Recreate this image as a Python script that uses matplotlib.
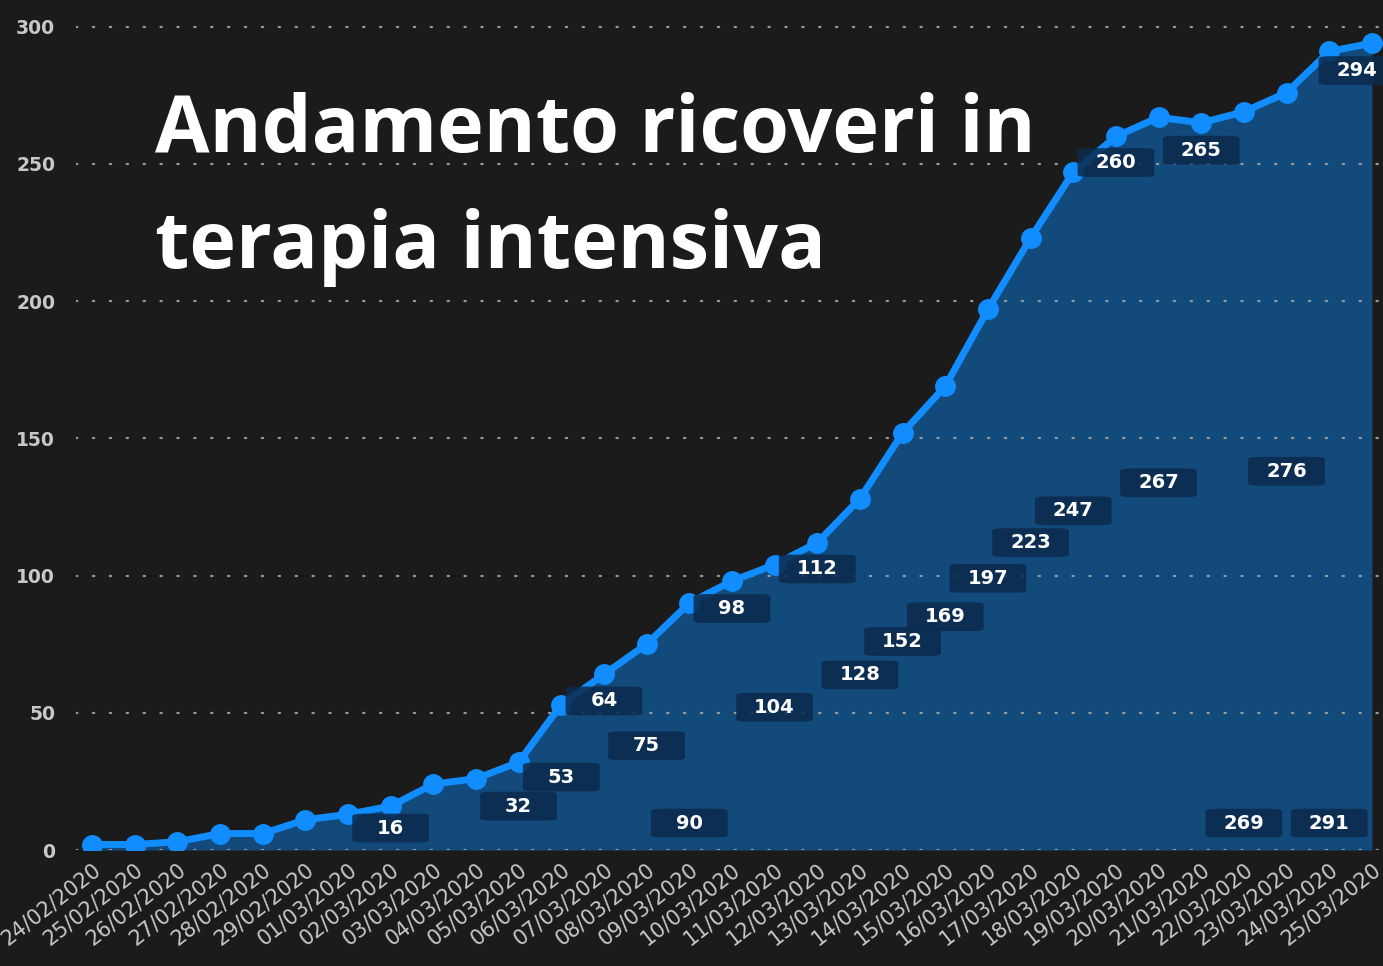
import matplotlib
matplotlib.use("Agg")
import matplotlib.pyplot as plt
from matplotlib.patches import FancyBboxPatch

dates = ["24/02/2020", "25/02/2020", "26/02/2020", "27/02/2020", "28/02/2020", "29/02/2020",
         "01/03/2020", "02/03/2020", "03/03/2020", "04/03/2020", "05/03/2020", "06/03/2020",
         "07/03/2020", "08/03/2020", "09/03/2020", "10/03/2020", "11/03/2020", "12/03/2020",
         "13/03/2020", "14/03/2020", "15/03/2020", "16/03/2020", "17/03/2020", "18/03/2020",
         "19/03/2020", "20/03/2020", "21/03/2020", "22/03/2020", "23/03/2020", "24/03/2020",
         "25/03/2020"]
values = [2, 2, 3, 6, 6, 11, 13, 16, 24, 26, 32, 53, 64, 75, 90, 98, 104, 112, 128, 152,
          169, 197, 223, 247, 260, 267, 265, 269, 276, 291, 294]
# indices of labelled points and the vertical (data-unit) position of their label boxes
label_idx = [7, 10, 11, 12, 13, 14, 15, 16, 17, 18, 19, 20, 21, 22, 23, 24, 25, 26, 27, 28, 29, 30]
label_y = [8, 16, 26.6, 54.3, 38, 9.8, 88, 52, 102.4, 63.8, 76, 85, 99, 112, 123.6,
           250.5, 133.8, 255, 9.8, 138, 9.8, 284]
yticks = [0, 50, 100, 150, 200, 250, 300]
title_lines = ["Andamento ricoveri in", "terapia intensiva"]

BG = "#1b1b1b"
LINE = "#118dff"
FILL = "#134a7c"
BOX = "#0c2a4c"

W, H = 1383, 966
fig = plt.figure(figsize=(W / 100, H / 100), dpi=100, facecolor=BG)
ax_left, ax_right = 76 / W, 1.0
ax_bottom = (H - 850) / H
ax_top = 1 - 13 / H
ax = fig.add_axes([ax_left, ax_bottom, ax_right - ax_left, ax_top - ax_bottom])
ax.set_facecolor(BG)

x = list(range(len(values)))
ax.fill_between(x, values, 0, color=FILL, zorder=1, linewidth=0)
ax.plot(x, values, color=LINE, lw=5, marker="o", ms=14, zorder=4, solid_joinstyle="round")

ax.set_xlim(-0.375, 30.26)
ax.set_ylim(0, 305)
ax.set_yticks(yticks)
for yv in yticks:
    ax.axhline(yv, color="#9a9a9a", lw=1.6, ls=(0, (0.6, 7)), zorder=2, dash_capstyle="round")

ax.set_xticks(x)
ax.set_xticklabels(dates, rotation=38, ha="right", va="top", rotation_mode="anchor",
                   fontsize=15, color="#c8c8c8", family="DejaVu Sans")
ax.set_yticklabels([str(v) for v in yticks], fontsize=13.5, color="#c8c8c8",
                   family="DejaVu Sans", fontweight="bold")
ax.tick_params(axis="both", length=0)
ax.tick_params(axis="x", pad=7)
ax.tick_params(axis="y", pad=15)
for s in ax.spines.values():
    s.set_visible(False)

# label boxes
bw, bh = 1.8, 10.5
for i, ly in zip(label_idx, label_y):
    lx = i - 0.35 if i == len(values) - 1 else i
    box = FancyBboxPatch((lx - bw / 2, ly - bh / 2), bw, bh,
                         boxstyle="round,pad=0,rounding_size=0.25",
                         mutation_aspect=3.5,
                         facecolor=BOX, edgecolor="none", alpha=0.85, zorder=5)
    ax.add_patch(box)
    ax.text(lx, ly, str(values[i]), color="white", fontsize=14, fontweight="bold",
            ha="center", va="center", zorder=6, family="DejaVu Sans")

for k, (line, base) in enumerate(zip(title_lines, [152, 268])):
    fig.text(155 / W, 1 - base / H, line, color="white", fontsize=57, fontweight="bold",
             family="Open Sans", ha="left", va="baseline")

fig.savefig("out.png", dpi=100, facecolor=BG)
